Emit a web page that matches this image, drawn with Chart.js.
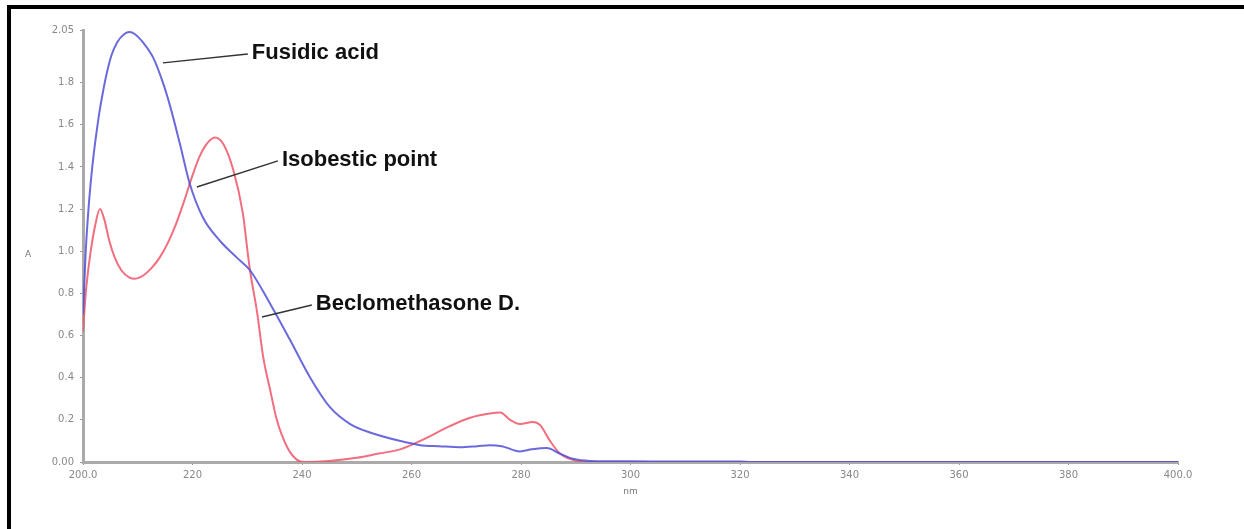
<!DOCTYPE html>
<html>
<head>
<meta charset="utf-8">
<script src="https://cdn.jsdelivr.net/npm/chart.js@4/dist/chart.umd.min.js"></script>
<style>
  html, body { margin: 0; padding: 0; background: #fff; }
  #wrap { position: relative; width: 1244px; height: 529px; overflow: hidden; }
  #frame { position: absolute; left: 7px; top: 5px; right: -10px; bottom: -10px;
           border-left: 4px solid #000; border-top: 4px solid #000; }
  canvas { position: absolute; left: 0; top: 0; }
</style>
</head>
<body>
<div id="wrap">
  <div id="frame"></div>
  <canvas id="spectrum" width="1244" height="529"></canvas>
</div>
<script>
// wavelengths (nm) and absorbance values
const fusidicNm = [200.0, 200.5, 201.0, 201.5, 202.0, 202.5, 203.0, 203.6, 204.3, 205.2, 206.2, 207.5,
    208.5, 209.5, 211.0, 212.8, 214.6, 215.9, 217.7, 219.5, 221.9, 225.0, 228.1, 230.5, 234.2, 237.8,
    241.5, 245.1, 248.8, 252.4, 257.9, 261.6, 265.0, 268.9, 272.0, 274.3, 276.5, 279.8, 282.0, 284.7,
    287.1, 289.5, 292.6, 300, 320, 322, 400];
const fusidicA = [0.70, 1.00, 1.20, 1.35, 1.47, 1.57, 1.66, 1.75, 1.84, 1.93, 1.99, 2.03,
    2.04, 2.03, 1.99, 1.92, 1.80, 1.69, 1.51, 1.32, 1.16, 1.05, 0.97, 0.91, 0.75, 0.58,
    0.40, 0.26, 0.18, 0.14, 0.10, 0.08, 0.075, 0.07, 0.075, 0.08, 0.075, 0.05, 0.06, 0.066,
    0.04, 0.015, 0.005, 0.003, 0.002, 0, 0];

const beclomNm = [200.0, 200.5, 201.3, 202.2, 203.1, 203.9, 204.8, 205.8, 207.0, 208.5, 209.5, 211.0,
    212.5, 214.0, 215.5, 217.0, 218.5, 220.0, 221.3, 222.6, 224.1, 225.6, 227.4, 229.2, 230.1, 230.5,
    231.8, 232.9, 234.2, 235.4, 237.3, 239.1, 240.5, 245, 250, 254, 257.9, 261.6, 267.0, 270.7, 274.3,
    276.2, 278.0, 279.8, 282.2, 283.5, 285.3, 287.1, 289.5, 292.6, 400];
const beclomA = [0.62, 0.80, 0.98, 1.12, 1.20, 1.15, 1.05, 0.97, 0.91, 0.875, 0.87, 0.885,
    0.92, 0.97, 1.04, 1.13, 1.24, 1.36, 1.45, 1.51, 1.54, 1.51, 1.39, 1.18, 0.99, 0.91,
    0.71, 0.50, 0.34, 0.20, 0.07, 0.01, 0.0, 0.005, 0.02, 0.04, 0.06, 0.10, 0.17, 0.21, 0.23,
    0.235, 0.20, 0.18, 0.19, 0.175, 0.10, 0.04, 0.01, 0.0, 0.0];

const xTicks = [200, 220, 240, 260, 280, 300, 320, 340, 360, 380, 400];
const xTickLabels = ['200.0', '220', '240', '260', '280', '300', '320', '340', '360', '380', '400.0'];
const yTicks = [0, 0.2, 0.4, 0.6, 0.8, 1.0, 1.2, 1.4, 1.6, 1.8, 2.05];
const yTickLabels = ['0.00', '0.2', '0.4', '0.6', '0.8', '1.0', '1.2', '1.4', '1.6', '1.8', '2.05'];

// callout labels: text, point on the curve, end of the leader line (data units)
const calloutText = ['Fusidic acid', 'Isobestic point', 'Beclomethasone D.'];
const calloutFrom = [[214.6, 1.894], [220.8, 1.305], [232.7, 0.688]];
const calloutTo = [[230.1, 1.936], [235.6, 1.429], [241.8, 0.745]];

function toPoints(xs, ys) {
    return xs.map((x, i) => ({ x: x, y: ys[i] }));
}

const calloutPlugin = {
    id: 'callouts',
    afterDatasetsDraw(chart) {
        const c = chart.ctx;
        const xs = chart.scales.x, ys = chart.scales.y;
        c.save();
        calloutText.forEach((t, i) => {
            const x1 = xs.getPixelForValue(calloutFrom[i][0]), y1 = ys.getPixelForValue(calloutFrom[i][1]);
            const x2 = xs.getPixelForValue(calloutTo[i][0]), y2 = ys.getPixelForValue(calloutTo[i][1]);
            c.strokeStyle = '#333';
            c.lineWidth = 1.5;
            c.beginPath();
            c.moveTo(x1, y1);
            c.lineTo(x2, y2);
            c.stroke();
            c.fillStyle = '#111';
            c.font = 'bold 22px "Liberation Sans", Arial, sans-serif';
            c.textBaseline = 'middle';
            c.textAlign = 'left';
            c.fillText(t, x2 + 4, y2 - 1);
        });
        // axis titles
        c.fillStyle = '#777';
        c.font = '9px "DejaVu Sans", sans-serif';
        c.textAlign = 'center';
        c.fillText('A', 28, ys.getPixelForValue(1.0) + 3);
        c.fillText('nm', xs.getPixelForValue(300), ys.bottom + 30);
        c.restore();
    }
};

const ctx = document.getElementById('spectrum').getContext('2d');
const spectrumChart = new Chart(ctx, {
    type: 'line',
    data: {
        datasets: [{
            label: 'Fusidic acid',
            data: toPoints(fusidicNm, fusidicA),
            borderColor: 'rgba(80, 80, 215, 0.85)',
            borderWidth: 2,
            pointRadius: 0,
            cubicInterpolationMode: 'monotone'
        }, {
            label: 'Beclomethasone D.',
            data: toPoints(beclomNm, beclomA),
            borderColor: 'rgba(238, 85, 105, 0.85)',
            borderWidth: 2,
            pointRadius: 0,
            cubicInterpolationMode: 'monotone'
        }]
    },
    options: {
        responsive: false,
        animation: false,
        layout: { padding: { left: 0, top: 30, right: 66, bottom: 0 } },
        plugins: {
            legend: { display: false },
            tooltip: { enabled: false }
        },
        scales: {
            x: {
                type: 'linear',
                min: 200,
                max: 400,
                afterBuildTicks: scale => { scale.ticks = xTicks.map(v => ({ value: v })); },
                afterFit: scale => { scale.height = 67; },
                grid: { drawOnChartArea: false, drawTicks: true, tickLength: 3, color: '#999' },
                border: { display: true, color: '#aaa', width: 3 },
                ticks: {
                    color: '#888',
                    font: { size: 10, family: 'DejaVu Sans' },
                    maxRotation: 0,
                    padding: 4,
                    callback: (v) => xTickLabels[xTicks.indexOf(v)]
                }
            },
            y: {
                min: 0,
                max: 2.05,
                afterBuildTicks: scale => { scale.ticks = yTicks.map(v => ({ value: v })); },
                afterFit: scale => { scale.width = 83; },
                grid: { drawOnChartArea: false, drawTicks: true, tickLength: 3, color: '#999' },
                border: { display: true, color: '#aaa', width: 3 },
                ticks: {
                    color: '#888',
                    font: { size: 10, family: 'DejaVu Sans' },
                    padding: 6,
                    callback: (v) => yTickLabels[yTicks.indexOf(v)]
                }
            }
        }
    },
    plugins: [calloutPlugin]
});
</script>
</body>
</html>
